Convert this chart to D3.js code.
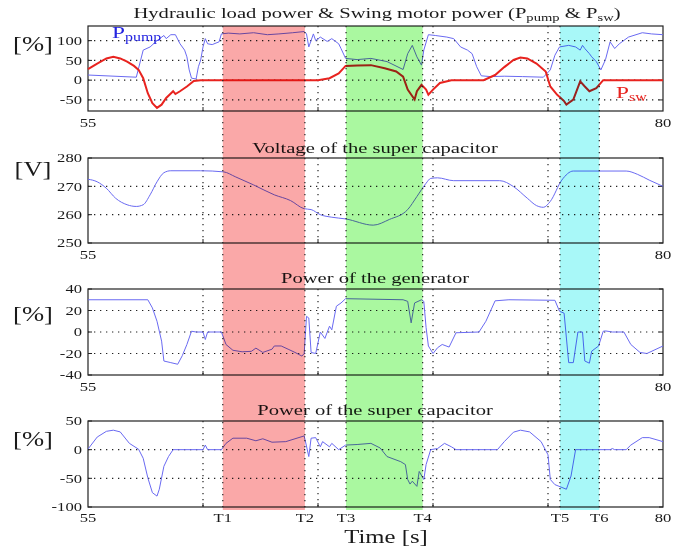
<!DOCTYPE html>
<html><head><meta charset="utf-8">
<script src="https://cdn.jsdelivr.net/npm/d3@7/dist/d3.min.js"></script>
<style>body{margin:0;background:#fff}svg{display:block}text{font-family:"Liberation Serif","DejaVu Serif",serif;fill:#1a1a1a}</style>
</head><body><svg id="c" width="686" height="550"></svg>
<script>
// ---- data ----
const pumpTime=[55,57.1,57.4,57.7,58.0,58.3,58.4,58.6,58.8,59.0,59.2,59.3,59.4,59.5,59.7,59.8,59.9,60.0,60.1,60.2,60.4,60.7,60.8,61.1,61.6,62.2,62.8,63.3,63.9,64.4,64.5,64.6,64.8,64.9,65.1,65.4,65.6,65.9,66.0,66.2,66.7,67.3,68.0,68.7,68.9,69.1,69.3,69.5,69.6,69.8,70.1,70.6,70.9,71.2,71.5,71.7,71.9,72.1,72.5,73.1,73.9,74.8,75.1,75.3,75.5,75.9,76.2,76.4,76.5,76.6,76.8,76.9,77.1,77.3,77.5,77.7,77.9,78.1,78.5,79.1,79.5,80];
const pumpPower=[13,7.5,76,84,100,113,105,115,115,92,76,59,26,5,3,34,51,84,105,92,90,97,117,119,117,120,115,117,120,123,117,84,117,100,109,98,105,92,80,55,52,55,47,27,67,88,59,38,76,115,113,109,105,84,76,67,34,11,9,10,9,7.5,26,63,84,88,84,76,88,80,67,59,47,26,52,97,80,92,109,120,117,115];
const swTime=[55,55.4,55.8,56.1,56.4,56.7,57.0,57.2,57.4,57.6,57.8,58.0,58.2,58.4,58.7,58.8,59.0,59.3,59.6,59.9,65.0,65.5,65.9,66.2,66.7,67.3,67.9,68.4,68.7,68.9,69.2,69.3,69.5,69.7,69.8,70.0,70.3,70.8,72.2,72.7,73.1,73.5,73.8,74.1,74.5,74.9,75.1,75.4,75.7,75.8,76.1,76.4,76.6,76.8,77.1,77.4,80];
const swPower=[28,42,55,59,55,47,36,26,5,-33,-58,-70,-62,-45,-28,-35,-28,-16,-2,0,0,5,17,36,37,38,30,22,9,-24,-49,-28,-12,-24,-37,-24,-7,0,0,13,33,51,57,55,42,22,-16,-37,-53,-62,-49,-3,-16,-28,-20,0,0];
const voltTime=[55,55.4,55.8,56.2,56.7,57.1,57.4,57.7,58.0,58.3,58.6,59.9,60.9,61.4,62.2,63.1,63.8,64.4,64.7,65.1,65.6,66.2,67.4,68.1,68.9,69.3,69.7,69.9,70.2,70.9,72.9,73.5,74.1,74.5,74.8,75.1,75.6,76.1,78.4,78.9,79.4,80];
const voltValue=[272.5,271.6,269.3,265.8,263.5,262.9,263.5,267,271.6,274.8,275.5,275.5,275.1,273.4,270.5,267,265,262.1,261.8,260,259.1,258.5,256.3,258.3,261.8,266.4,271.1,272.8,273,272,272,269.9,265.8,263.2,262.6,264.7,272.2,275.4,275.4,274.2,272.2,270];
const genTime=[55,57.6,57.8,58.0,58.2,58.3,58.6,58.9,59.1,59.3,59.5,59.7,60.0,60.1,60.2,60.8,61.0,61.3,61.7,62.1,62.3,62.6,63.0,63.1,63.4,63.7,64.0,64.3,64.4,64.5,64.6,64.7,64.9,65.1,65.3,65.5,65.6,65.8,66.0,66.2,68.7,68.9,69.05,69.2,69.5,69.6,69.7,69.8,70.0,70.2,70.4,70.7,71.0,72.0,72.3,72.7,73.3,75.3,75.5,75.7,75.9,76.1,76.3,76.5,76.6,76.8,76.9,77.2,77.4,77.5,77.8,78.3,78.6,79.0,79.3,80];
const genPower=[30,30,22.4,10,-8.5,-27,-28.5,-30,-22,-11.6,0.7,0,0,-7,0,0,-11.6,-17,-18.4,-18,-15,-19,-16,-13,-13,-16,-19,-22.4,-20,14.6,13,-19,-20,0,-6,5.4,2,24,27,31,30,28.5,8.5,27,30,28.5,4,-13,-20,-14.6,-11.6,-14,-0.7,0,10,29,30,29.5,19.3,17.5,-28.5,-28.5,0,0,-27,-29,-17.8,-13,0.7,1,0,0,-11.6,-19,-20,-13];
const capTime=[55,55.4,55.8,56.1,56.4,56.8,57.2,57.4,57.6,57.8,58.0,58.1,58.3,58.5,58.7,60.0,60.1,60.2,60.8,61.0,61.3,61.9,62.3,62.6,63.0,63.6,64.0,64.4,64.6,64.7,64.9,65.1,65.2,65.5,65.6,65.9,66.2,66.7,67.3,67.7,68.0,68.6,68.8,68.9,69.0,69.1,69.3,69.4,69.6,69.7,69.9,70.2,70.5,70.8,71.0,72.8,73.1,73.5,73.8,74.2,74.7,75.0,75.1,75.3,75.8,76.0,76.2,77.7,77.8,77.9,78.4,78.6,79.1,79.4,80];
const capPower=[1,22,32,34,31,11,0.7,-15,-49,-75,-81,-69,-29,-12,0,0,8,0,0,11,20,20,15.5,19,13,14,19,24,-12,20,21,5,14,5,11,0,8,9,11,3,-12,-21,-26,-52,-60,-55,-64,-38,-52,-26,0,2,11,5,0,0,14,30.5,34,31,14,-9,-52,-61,-69,-46,0,0,2,0,0,8,21,21,14];
const phaseTimes=[60.86,64.43,66.22,69.55,75.52,77.23];
const phaseLabels=["T1","T2","T3","T4","T5","T6"];
const phaseFills=["#faa8a8","#aaf8a0","#a8f8f8"];
const gridTimes=[60,65,70,75];
const yTicks1=[-50,0,50,100], yTicks2=[250,260,270,280], yTicks3=[-40,-20,0,20,40], yTicks4=[-100,-50,0,50];

// ---- layout ----
const svg=d3.select("#c");
const SX=1.33;
function txt(x,y,s,fs,anchor,color){
  const t=svg.append("text").attr("transform",`translate(${x},${y}) scale(${SX},1)`)
    .attr("text-anchor",anchor||"start").style("font-size",fs+"px");
  if(color) t.style("fill",color);
  if(s!==null) t.text(s);
  return t;
}
const L=88,R=663;
const x=d3.scaleLinear().domain([55,80]).range([L,R]);
const panels=[
 {top:26,bot:111,dom:[-78,137],ticks:yTicks1,unit:"[%]",ub:51,title:null,tb:18},
 {top:158,bot:243,dom:[250,280],ticks:yTicks2,unit:"[V]",ub:176,title:"Voltage of the super capacitor",tb:152.5},
 {top:289,bot:375,dom:[-40,40],ticks:yTicks3,unit:"[%]",ub:321,title:"Power of the generator",tb:283},
 {top:421,bot:507,dom:[-100,50],ticks:yTicks4,unit:"[%]",ub:446,title:"Power of the super capacitor",tb:415}
];
panels.forEach(p=>p.y=d3.scaleLinear().domain(p.dom).range([p.bot,p.top]));
const blue="#6a6af2", red="#e8231f";
const dash="1.3,4.7";

panels.forEach((p,i)=>{
  const g=svg.append("g");
  p.ticks.forEach(v=>{ if(v>p.dom[0]&&v<p.dom[1]) g.append("line").attr("x1",L).attr("x2",R).attr("y1",p.y(v)).attr("y2",p.y(v)).attr("stroke","#222").attr("stroke-width",1.2).attr("stroke-dasharray",dash); });
  gridTimes.forEach(t=>g.append("line").attr("x1",x(t)).attr("x2",x(t)).attr("y1",p.top).attr("y2",p.bot).attr("stroke","#222").attr("stroke-width",1.2).attr("stroke-dasharray",dash));
  p.ticks.forEach(v=>{
    g.append("line").attr("x1",R-4).attr("x2",R).attr("y1",p.y(v)).attr("y2",p.y(v)).attr("stroke","#222");
    g.append("line").attr("x1",L).attr("x2",L+4).attr("y1",p.y(v)).attr("y2",p.y(v)).attr("stroke","#222");
    txt(L-6,p.y(v)+4.2,String(v).replace("-","-"),12.5,"end");
  });
  gridTimes.forEach(t=>{g.append("line").attr("x1",x(t)).attr("x2",x(t)).attr("y1",p.bot-4).attr("y2",p.bot).attr("stroke","#222");});
  g.append("rect").attr("x",L).attr("y",p.top).attr("width",R-L).attr("height",p.bot-p.top).attr("fill","none").attr("stroke","#222").attr("stroke-width",1.2);
  txt(33,p.ub,p.unit,20,"middle");
  if(i<3){
    txt(x(55),p.bot+16,"55",12.5,"middle");
    txt(x(80),p.bot+16,"80",12.5,"middle");
  }
  if(p.title) txt(375,p.tb,p.title,15.5,"middle");
});

// title 1 with subscripts
const t1=txt(377,18,null,15.5,"middle");
t1.append("tspan").text("Hydraulic load power & Swing motor power (P");
t1.append("tspan").attr("dy",3).style("font-size","11px").text("pump");
t1.append("tspan").attr("dy",-3).text(" & P");
t1.append("tspan").attr("dy",3).style("font-size","11px").text("sw");
t1.append("tspan").attr("dy",-3).text(")");

// lines
function line(p){return d3.line().x(d=>x(d[0])).y(d=>p.y(d[1]));}
const P=panels;
svg.append("path").datum(d3.zip(pumpTime,pumpPower)).attr("d",line(P[0])).attr("fill","none").attr("stroke",blue).attr("stroke-width",1);
svg.append("path").datum(d3.zip(swTime,swPower)).attr("d",line(P[0])).attr("fill","none").attr("stroke",red).attr("stroke-width",2);
svg.append("path").datum(d3.zip(voltTime,voltValue)).attr("d",line(P[1]).curve(d3.curveMonotoneX)).attr("fill","none").attr("stroke",blue).attr("stroke-width",1);
svg.append("path").datum(d3.zip(genTime,genPower)).attr("d",line(P[2])).attr("fill","none").attr("stroke",blue).attr("stroke-width",1);
svg.append("path").datum(d3.zip(capTime,capPower)).attr("d",line(P[3])).attr("fill","none").attr("stroke",blue).attr("stroke-width",1);

// legend labels
const lp=txt(112,38,null,17.5,"start","#2424e0");
lp.append("tspan").text("P"); lp.append("tspan").attr("dy",3).style("font-size","12px").text("pump");
const ls=txt(616,98,null,17.5,"start",red);
ls.append("tspan").text("P"); ls.append("tspan").attr("dy",3).style("font-size","12px").text("sw");

// shaded phases (multiply)
for(let k=0;k<3;k++){
  svg.append("rect").attr("x",x(phaseTimes[2*k])).attr("y",26).attr("width",x(phaseTimes[2*k+1])-x(phaseTimes[2*k])).attr("height",510-26)
    .attr("fill",phaseFills[k]).style("mix-blend-mode","multiply");
}
phaseTimes.forEach(t=>svg.append("line").attr("x1",x(t)).attr("x2",x(t)).attr("y1",26).attr("y2",510).attr("stroke","#222").attr("stroke-width",1.2).attr("stroke-dasharray",dash));

// bottom labels
const bl=[[55,"55"]].concat(phaseTimes.map((t,i)=>[t,phaseLabels[i]])).concat([[80,"80"]]);
bl.forEach(d=>txt(x(d[0]),522,d[1],12.5,"middle"));
txt(386,543,"Time [s]",18.6,"middle");
</script></body></html>
